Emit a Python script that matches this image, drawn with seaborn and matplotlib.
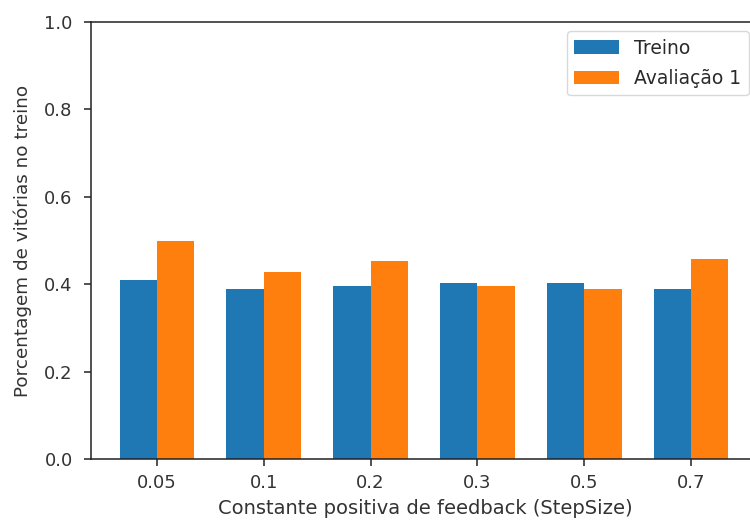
import matplotlib
matplotlib.use("Agg")
import matplotlib.pyplot as plt
import seaborn as sns
import pandas as pd

# Values per StepSize setting
step_sizes = ["0.05", "0.1", "0.2", "0.3", "0.5", "0.7"]
treino = [0.41, 0.388, 0.397, 0.402, 0.402, 0.388]
avaliacao_1 = [0.50, 0.429, 0.452, 0.397, 0.388, 0.457]
series_names = ["Treino", "Avaliação 1"]
series_colors = ["#1f77b4", "#ff7f0e"]

df = pd.DataFrame({
    "step": step_sizes * 2,
    "valor": treino + avaliacao_1,
    "serie": [series_names[0]] * len(step_sizes) + [series_names[1]] * len(step_sizes),
})

sns.set_style("ticks")
plt.rcParams["font.family"] = ["DejaVu Sans"]
plt.rcParams["text.color"] = "#2a2a2a"

fig = plt.figure(figsize=(7.5, 5.2), dpi=100)
ax = fig.add_axes([0.121, 0.1173, 0.893, 0.8404])

sns.barplot(data=df, x="step", y="valor", hue="serie", order=step_sizes,
            hue_order=series_names, palette=series_colors, width=0.7,
            saturation=1, edgecolor="none", linewidth=0, ax=ax)

ax.set_xlim(-0.62, 5.65)
ax.set_ylim(0, 1.0)
ax.set_yticks([0.0, 0.2, 0.4, 0.6, 0.8, 1.0])
ax.tick_params(axis="both", labelsize=13, colors="#222222", length=5, width=1.1)
ax.tick_params(axis="y", pad=8)
ax.tick_params(axis="x", pad=6)
ax.tick_params(axis="both", labelcolor="#333333")
for s in ax.spines.values():
    s.set_linewidth(1.1)
    s.set_color("#222222")
ax.spines["right"].set_visible(False)

ax.set_xlabel("Constante positiva de feedback (StepSize)", fontsize=14, color="#333333", labelpad=5)
ax.set_ylabel("Porcentagem de vitórias no treino", fontsize=13.2, color="#333333", labelpad=9)

leg = ax.legend(loc="upper right", bbox_to_anchor=(749 / 750, 1 - 31 / 520),
                bbox_transform=fig.transFigure, fontsize=13.5, frameon=True,
                handlelength=2.4, labelspacing=0.6, borderaxespad=0)
leg.get_frame().set_edgecolor("#d0d0d0")
leg.get_frame().set_linewidth(1.0)

fig.savefig("out.png", dpi=100)
